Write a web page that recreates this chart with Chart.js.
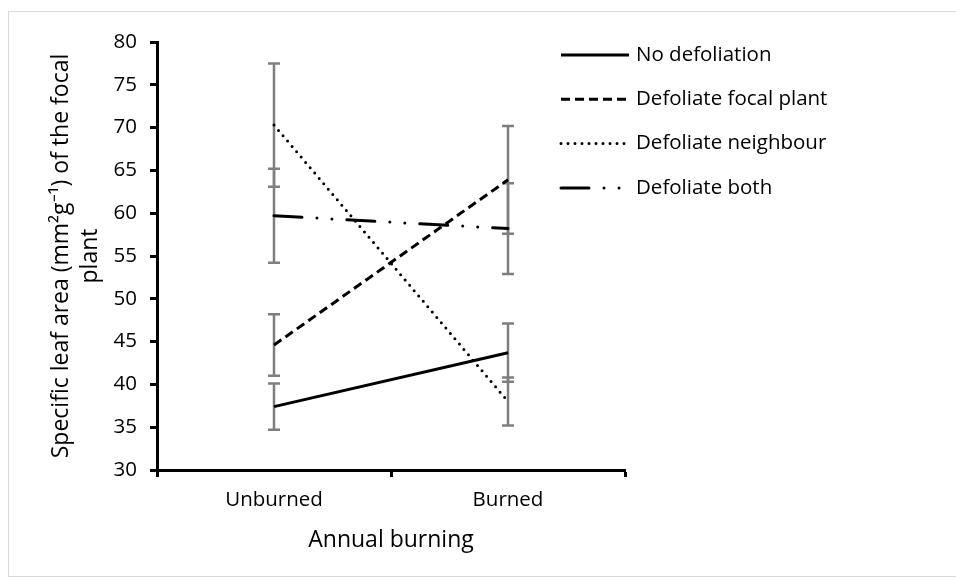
<!DOCTYPE html>
<html lang="en">
<head>
    <meta charset="UTF-8">
    <title>Specific leaf area</title>
    <script src="https://cdn.jsdelivr.net/npm/chart.js@4.4.0/dist/chart.umd.min.js"></script>
    <style>
        body {
            margin: 0;
            background: #ffffff;
            font-family: "Open Sans", sans-serif;
        }
        .frame {
            position: absolute;
            left: 8px;
            top: 11px;
            width: 1000px;
            height: 564px;
            border: 1px solid #d9d9d9;
        }
        .chart-box {
            position: absolute;
            left: 0;
            top: 0;
            width: 956px;
            height: 581px;
        }
    </style>
</head>
<body>
    <div class="frame"></div>
    <div class="chart-box">
        <canvas id="slaChart" width="956" height="581"></canvas>
    </div>

    <script>
        // Values (means and +/- error)
        const categories = ['Unburned', 'Burned'];
        const seriesNames = ['No defoliation', 'Defoliate focal plant', 'Defoliate neighbour', 'Defoliate both'];

        const noDefoliation = [37.4, 43.7];
        const noDefoliationErr = [2.7, 3.4];
        const defoliateFocal = [44.6, 63.9];
        const defoliateFocalErr = [3.6, 6.3];
        const defoliateNeighbour = [70.3, 38.0];
        const defoliateNeighbourErr = [7.2, 2.8];
        const defoliateBoth = [59.7, 58.2];
        const defoliateBothErr = [5.5, 5.3];

        const yTicks = { min: 30, max: 80, step: 5 };

        const black = '#000000';
        const errColor = '#7f7f7f';

        // vertical error bars with caps, drawn under the lines
        const errorBars = {
            id: 'errorBars',
            beforeDatasetsDraw(chart) {
                const ctx = chart.ctx;
                const x = chart.scales.x;
                const y = chart.scales.y;
                ctx.save();
                ctx.strokeStyle = errColor;
                ctx.lineWidth = 2.5;
                ctx.setLineDash([]);
                chart.data.datasets.forEach(ds => {
                    ds.data.forEach((v, i) => {
                        const px = x.getPixelForValue(i);
                        const top = y.getPixelForValue(v + ds.errors[i]);
                        const bottom = y.getPixelForValue(v - ds.errors[i]);
                        ctx.beginPath();
                        ctx.moveTo(px, top);
                        ctx.lineTo(px, bottom);
                        ctx.moveTo(px - 6, top);
                        ctx.lineTo(px + 6, top);
                        ctx.moveTo(px - 6, bottom);
                        ctx.lineTo(px + 6, bottom);
                        ctx.stroke();
                    });
                });
                ctx.restore();
            }
        };

        // legend sits over the right part of the plot, like the original
        const lineLegend = {
            id: 'lineLegend',
            afterDraw(chart) {
                const ctx = chart.ctx;
                ctx.save();
                ctx.font = '20.5px "Open Sans"';
                ctx.textBaseline = 'middle';
                ctx.fillStyle = black;
                chart.data.datasets.forEach((ds, i) => {
                    const ly = 55 + i * 44.3;
                    ctx.beginPath();
                    ctx.strokeStyle = ds.borderColor;
                    ctx.lineWidth = ds.borderWidth;
                    ctx.lineCap = ds.borderCapStyle;
                    ctx.setLineDash(ds.borderDash);
                    ctx.moveTo(561, ly);
                    ctx.lineTo(629, ly);
                    ctx.stroke();
                    ctx.setLineDash([]);
                    ctx.fillText(ds.label, 636, ly);
                });
                ctx.restore();
            }
        };

        const ctx = document.getElementById('slaChart').getContext('2d');
        const slaChart = new Chart(ctx, {
            type: 'line',
            data: {
                labels: categories,
                datasets: [{
                    label: seriesNames[0],
                    data: noDefoliation,
                    errors: noDefoliationErr,
                    borderColor: black,
                    borderWidth: 3,
                    borderDash: [],
                    borderCapStyle: 'butt'
                }, {
                    label: seriesNames[1],
                    data: defoliateFocal,
                    errors: defoliateFocalErr,
                    borderColor: black,
                    borderWidth: 3,
                    borderDash: [9, 5],
                    borderCapStyle: 'butt'
                }, {
                    label: seriesNames[2],
                    data: defoliateNeighbour,
                    errors: defoliateNeighbourErr,
                    borderColor: black,
                    borderWidth: 3,
                    borderDash: [0, 7],
                    borderCapStyle: 'round'
                }, {
                    label: seriesNames[3],
                    data: defoliateBoth,
                    errors: defoliateBothErr,
                    borderColor: black,
                    borderWidth: 3,
                    borderDash: [28, 15, 0, 15, 0, 15],
                    borderCapStyle: 'round'
                }]
            },
            options: {
                responsive: false,
                animation: false,
                events: [],
                layout: {
                    padding: { left: 0, top: 42, right: 331, bottom: 0 }
                },
                elements: {
                    point: { radius: 0 },
                    line: { tension: 0 }
                },
                plugins: {
                    legend: { display: false },
                    tooltip: { enabled: false }
                },
                scales: {
                    x: {
                        offset: true,
                        afterFit(scale) { scale.height = 111; },
                        grid: {
                            offset: true,
                            drawOnChartArea: false,
                            tickLength: 7,
                            tickWidth: 3,
                            tickColor: black
                        },
                        border: { display: true, color: black, width: 3 },
                        ticks: {
                            color: black,
                            padding: 11,
                            font: { family: 'Open Sans', size: 20.5 }
                        },
                        title: {
                            display: true,
                            text: 'Annual burning',
                            color: black,
                            padding: { top: 0, bottom: 27 },
                            font: { family: 'Open Sans', size: 23 }
                        }
                    },
                    y: {
                        min: yTicks.min,
                        max: yTicks.max,
                        afterFit(scale) { scale.width = 157; },
                        grid: {
                            drawOnChartArea: false,
                            tickLength: 7,
                            tickWidth: 3,
                            tickColor: black
                        },
                        border: { display: true, color: black, width: 3 },
                        ticks: {
                            stepSize: yTicks.step,
                            color: black,
                            padding: 13,
                            font: { family: 'Open Sans', size: 20.5 }
                        },
                        title: {
                            display: true,
                            text: ['Specific leaf area (mm\u00b2g\u207b\u00b9) of the focal', 'plant'],
                            color: black,
                            padding: { top: 47, bottom: 0 },
                            font: { family: 'Open Sans', size: 23, lineHeight: 1.26 }
                        }
                    }
                }
            },
            plugins: [errorBars, lineLegend]
        });
    </script>
</body>
</html>
